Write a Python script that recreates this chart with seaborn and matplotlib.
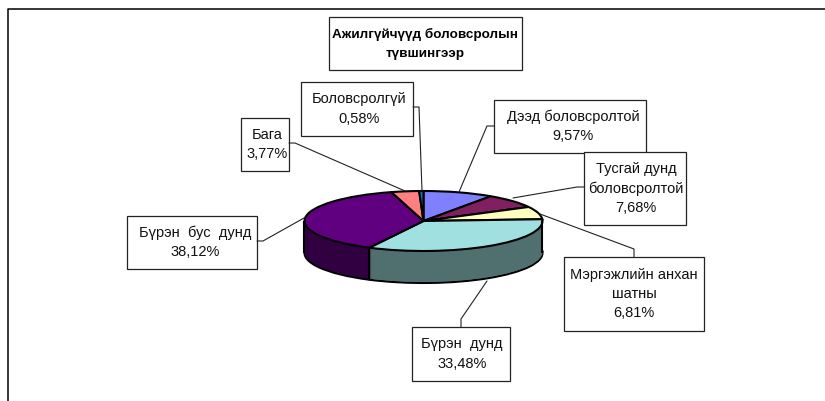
"""Unemployed by education level, fake-3D pie."""
import numpy as np
import matplotlib
matplotlib.use('Agg')
import matplotlib.pyplot as plt
from matplotlib.patches import Rectangle
import seaborn as sns

TITLE = 'Ажилгүйчүүд боловсролын\nтүвшингээр'
CATEGORIES = ['Дээд боловсролтой', 'Тусгай дунд\nболовсролтой', 'Мэргэжлийн анхан\nшатны',
              'Бүрэн  дунд', 'Бүрэн  бус  дунд', 'Бага', 'Боловсролгүй']
VALUES = [9.57, 7.68, 6.81, 33.48, 38.12, 3.77, 0.58]
COLORS = ['#8080FF', '#802060', '#FFFFC0', '#A0E0E0', '#600080', '#FF8080', '#0080C0']

W, H = 825, 402
CX, CY = 423.5, 222     # pie centre, px
RX, RY = 119, 30        # ellipse radii, px
DEPTH = 32              # side height, px

# box x0, y0, x1, y1 in px
BOXES = [(494, 101, 646, 154), (584, 153, 686, 226), (564, 258, 704, 332),
         (412, 328, 510, 382), (127, 217, 257, 270), (241, 119, 289, 172),
         (301, 83, 413, 137)]
TEXT_DX = [3, 1, 0, 1, 3, 2, 2]
LEADERS = [[(494, 127), (487, 127), (459, 193)],
           [(584, 188), (577, 188), (513, 199)],
           [(634, 258), (634, 250), (540, 215)],
           [(461, 328), (461, 320), (487, 282)],
           [(257, 242), (263, 242), (304, 219)],
           [(289, 144), (295, 144), (405, 192)],
           [(413, 108), (419, 108), (422, 192)]]

sns.set_theme(style='white')
plt.rcParams['font.family'] = ['Liberation Sans', 'DejaVu Sans']

fig = plt.figure(figsize=(W / 100, H / 100), dpi=100)
fig.patch.set_facecolor('white')

# ── Pie: squashed axes, one unit = RX px across and RY px down ────
ax = fig.add_axes([0, 0, 1, 1])
palette = sns.color_palette(COLORS)
dark = [tuple(c * 0.5 for c in col) for col in palette]

ax.pie(VALUES, colors=dark, startangle=90, counterclock=False, center=(0, -DEPTH / RY),
       wedgeprops=dict(edgecolor='black', linewidth=1.5))
for px in range(DEPTH - 1, 0, -1):
    ax.pie(VALUES, colors=dark, startangle=90, counterclock=False, center=(0, -px / RY),
           wedgeprops=dict(edgecolor=None, linewidth=0))

# vertical side edges
fracs = np.cumsum(VALUES) / np.sum(VALUES)
theta = 2 * np.pi * fracs[3:4]
for x, y in [(-1, 0), (1, 0)] + list(zip(np.sin(theta), np.cos(theta))):
    ax.plot([x, x], [y, y - DEPTH / RY], color='black', lw=1.5, solid_capstyle='butt')

ax.pie(VALUES, colors=palette, startangle=90, counterclock=False,
       wedgeprops=dict(edgecolor='black', linewidth=1.5))
ax.set_aspect('auto')
ax.set_xlim(-CX / RX, (W - CX) / RX)
ax.set_ylim((CY - H) / RY, CY / RY)
ax.axis('off')

# ── Overlay in pixel coordinates ──────────────────────────────────
ov = fig.add_axes([0, 0, 1, 1], facecolor='none')
ov.set_xlim(0, W)
ov.set_ylim(H, 0)
ov.axis('off')

# frame around the chart area, open at right and bottom
ov.plot([8, 8, W], [H, 10, 10], color='black', lw=1.1)

for (name, val, box, pts, dx) in zip(CATEGORIES, VALUES, BOXES, LEADERS, TEXT_DX):
    xs, ys = zip(*pts)
    ov.plot(xs, ys, color='#222222', lw=0.8)
    x0, y0, x1, y1 = box
    ov.add_patch(Rectangle((x0, y0), x1 - x0, y1 - y0, fc='white', ec='#222222', lw=0.9))
    label = name + '\n' + f'{val:.2f}'.replace('.', ',') + '%'
    ov.text((x0 + x1) / 2 + dx, (y0 + y1) / 2 - 1, label, ha='center', va='center',
            fontsize=10.5, linespacing=1.48, color='#111111')

ov.add_patch(Rectangle((329, 18), 193, 53, fc='white', ec='#222222', lw=0.9))
ov.text(425.5, 44, TITLE, ha='center', va='center', fontsize=9.7, fontweight='bold',
        linespacing=1.78, color='black')

fig.savefig('out.png', dpi=100)
